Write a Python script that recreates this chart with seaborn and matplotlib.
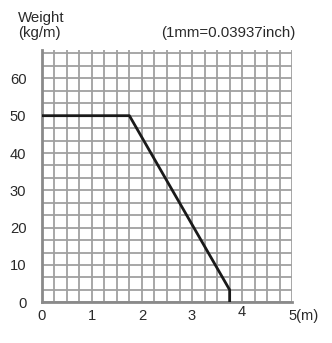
import matplotlib
matplotlib.use("Agg")
import matplotlib.pyplot as plt
from matplotlib.transforms import ScaledTranslation
import seaborn as sns
import numpy as np
import pandas as pd

# data
length_m = [0, 1.75, 3.75, 3.75]
weight_kg = [50, 50, 3.33, 0]
x_ticks = [0, 1, 2, 3, 4, 5]
x_labels = ["0", "1", "2", "3", "4", "5(m)"]
y_ticks = [0, 10, 20, 30, 40, 50, 60]
y_labels = ["0", "10", "20", "30", "40", "50", "60"]

sns.set_style("white")
plt.rcParams['font.family'] = ['Liberation Sans', 'DejaVu Sans']

fig = plt.figure(figsize=(3.32, 3.43), dpi=100)
ax = fig.add_axes([0.1256, 0.1187, 0.8804 - 0.1256, 0.8542 - 0.1187])

df = pd.DataFrame({"x": length_m, "y": weight_kg})
sns.lineplot(data=df, x="x", y="y", ax=ax, color="#1a1a1a", linewidth=2.0,
             sort=False, estimator=None, zorder=5)

ax.set_xlim(0, 5)
ax.set_ylim(0, 67.6)
ax.set_xticks(x_ticks)
ax.set_xticklabels(x_labels)
ax.set_yticks(y_ticks)
ax.set_yticklabels(y_labels)
ax.set_xticks(np.arange(0, 5.01, 0.25), minor=True)
ax.set_yticks(np.arange(0, 67, 10 / 3), minor=True)

ax.grid(True, which="both", color="#a0a0a0", linewidth=1.3)
ax.set_axisbelow(True)
ax.tick_params(which="both", length=0, labelcolor="#2a2a2a")
ax.tick_params(axis="x", labelsize=10.6, pad=5)
ax.tick_params(axis="y", labelsize=10.6, pad=11)
for lbl in ax.get_xticklabels():
    if lbl.get_text() == "5(m)":
        lbl.set_horizontalalignment("left")
        lbl.set_transform(lbl.get_transform() + ScaledTranslation(-4 / 100, 0, fig.dpi_scale_trans))
    if lbl.get_text() == "4":
        lbl.set_transform(lbl.get_transform() + ScaledTranslation(0, 4 / 100, fig.dpi_scale_trans))
ax.set_xlabel("")
ax.set_ylabel("")

for s in ["top", "right"]:
    ax.spines[s].set_visible(False)
for s in ["left", "bottom"]:
    ax.spines[s].set_color("#8a8a8a")
    ax.spines[s].set_linewidth(2.0)

fig.text(18 / 332, 1 - 18 / 343, "Weight", fontsize=10.8, va="center", ha="left", color="#2a2a2a")
fig.text(18 / 332, 1 - 33 / 343, "(kg/m)", fontsize=10.8, va="center", ha="left", color="#2a2a2a")
fig.text(295 / 332, 1 - 33 / 343, "(1mm=0.03937inch)", fontsize=10.8, va="center", ha="right", color="#2a2a2a")

fig.savefig("out.png", dpi=100)
